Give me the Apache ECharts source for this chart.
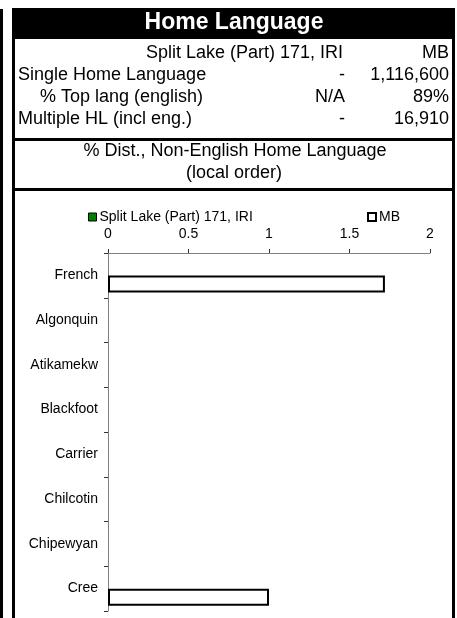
<!DOCTYPE html>
<html>
<head>
<meta charset="utf-8">
<script src="https://cdn.jsdelivr.net/npm/echarts@6/dist/echarts.min.js"></script>
<style>
html,body{margin:0;padding:0;background:#fff;}
#chart{width:457px;height:618px;}
</style>
</head>
<body>
<div id="chart"></div>
<script>
// ---- data ----
const title = 'Home Language';
const regionName = 'Split Lake (Part) 171, IRI';
const provName = 'MB';
const tableRows = ['Single Home Language', '% Top lang (english)', 'Multiple HL (incl eng.)'];
const regionVals = ['-', 'N/A', '-'];
const provVals = ['1,116,600', '89%', '16,910'];
const subtitle1 = '% Dist., Non-English Home Language';
const subtitle2 = '(local order)';
const categories = ['French', 'Algonquin', 'Atikamekw', 'Blackfoot', 'Carrier', 'Chilcotin', 'Chipewyan', 'Cree'];
const regionSeries = [0, 0, 0, 0, 0, 0, 0, 0];
const provSeries = [1.72, 0, 0, 0, 0, 0, 0, 1.0];
const xTicks = [0, 0.5, 1, 1.5, 2];

const FONT = '"Liberation Sans", Arial, sans-serif';
const chart = echarts.init(document.getElementById('chart'), null, {renderer: 'canvas'});

const rowY = [75, 97, 119];
const rowX = [18, 40, 18];
const graphics = [
  {type: 'rect', shape: {x: 0, y: 9, width: 3, height: 620}, style: {fill: '#000'}, silent: true},
  {type: 'rect', shape: {x: 12, y: 8, width: 443, height: 31}, style: {fill: '#000'}, silent: true},
  {type: 'text', x: 234, y: 23, style: {text: title, fill: '#fff', font: 'bold 23px ' + FONT, align: 'center', verticalAlign: 'middle'}, silent: true},
  {type: 'rect', shape: {x: 12, y: 8, width: 3, height: 620}, style: {fill: '#000'}, silent: true},
  {type: 'rect', shape: {x: 452, y: 8, width: 3, height: 620}, style: {fill: '#000'}, silent: true},
  {type: 'rect', shape: {x: 12, y: 138, width: 443, height: 3}, style: {fill: '#000'}, silent: true},
  {type: 'rect', shape: {x: 12, y: 188, width: 443, height: 3}, style: {fill: '#000'}, silent: true},
  {type: 'text', x: 343, y: 53, style: {text: regionName, fill: '#000', font: '18px ' + FONT, align: 'right', verticalAlign: 'middle'}, silent: true},
  {type: 'text', x: 449, y: 53, style: {text: provName, fill: '#000', font: '18px ' + FONT, align: 'right', verticalAlign: 'middle'}, silent: true},
  {type: 'text', x: 235, y: 151, style: {text: subtitle1, fill: '#000', font: '18px ' + FONT, align: 'center', verticalAlign: 'middle'}, silent: true},
  {type: 'text', x: 234, y: 173, style: {text: subtitle2, fill: '#000', font: '18px ' + FONT, align: 'center', verticalAlign: 'middle'}, silent: true}
];
tableRows.forEach((r, i) => {
  graphics.push({type: 'text', x: rowX[i], y: rowY[i], style: {text: r, fill: '#000', font: '18px ' + FONT, align: 'left', verticalAlign: 'middle'}, silent: true});
  graphics.push({type: 'text', x: 345, y: rowY[i], style: {text: regionVals[i], fill: '#000', font: '18px ' + FONT, align: 'right', verticalAlign: 'middle'}, silent: true});
  graphics.push({type: 'text', x: 449, y: rowY[i], style: {text: provVals[i], fill: '#000', font: '18px ' + FONT, align: 'right', verticalAlign: 'middle'}, silent: true});
});

// zero-length bars are invisible in the original
const toBarData = arr => arr.map(v => v === 0 ? {value: 0, itemStyle: {borderWidth: 0, opacity: 0}} : v);

chart.setOption({
  animation: false,
  textStyle: {fontFamily: FONT},
  graphic: graphics,
  legend: [
    {left: 83, top: 205, itemWidth: 8, itemHeight: 8, itemGap: 4, icon: 'rect',
     textStyle: {fontSize: 14, color: '#000', fontFamily: FONT, padding: [0, 0, 0, -2]},
     data: [{name: regionName, itemStyle: {color: '#008000', borderColor: '#000', borderWidth: 1}}]},
    {left: 362, top: 205, itemWidth: 8, itemHeight: 8, itemGap: 4, icon: 'rect',
     textStyle: {fontSize: 14, color: '#000', fontFamily: FONT, padding: [0, 0, 0, -2]},
     data: [{name: provName, itemStyle: {color: '#fff', borderColor: '#000', borderWidth: 2}}]}
  ],
  grid: {left: 108, right: 27, top: 253, bottom: 7, containLabel: false},
  xAxis: {
    type: 'value', position: 'top', min: 0, max: 2, interval: 0.5,
    axisLine: {show: true, lineStyle: {color: '#808080', width: 1}},
    axisTick: {show: true, length: 4, lineStyle: {color: '#333'}},
    axisLabel: {fontSize: 14, color: '#000', margin: 12, fontFamily: FONT,
      formatter: v => xTicks.indexOf(v) >= 0 ? String(v) : ''},
    splitLine: {show: false}
  },
  yAxis: {
    type: 'category', inverse: true, data: categories,
    axisLine: {show: true, lineStyle: {color: '#808080', width: 1}},
    axisTick: {show: true, length: 4, lineStyle: {color: '#333'}},
    axisLabel: {fontSize: 14, color: '#000', margin: 10, fontFamily: FONT}
  },
  series: [
    {name: regionName, type: 'bar', data: toBarData(regionSeries), barWidth: 17, barGap: '0%',
     itemStyle: {color: '#008000', borderColor: '#000', borderWidth: 0}},
    {name: provName, type: 'bar', data: toBarData(provSeries), barWidth: 17, barGap: '0%',
     itemStyle: {color: '#fff', borderColor: '#000', borderWidth: 2}}
  ]
});
</script>
</body>
</html>
